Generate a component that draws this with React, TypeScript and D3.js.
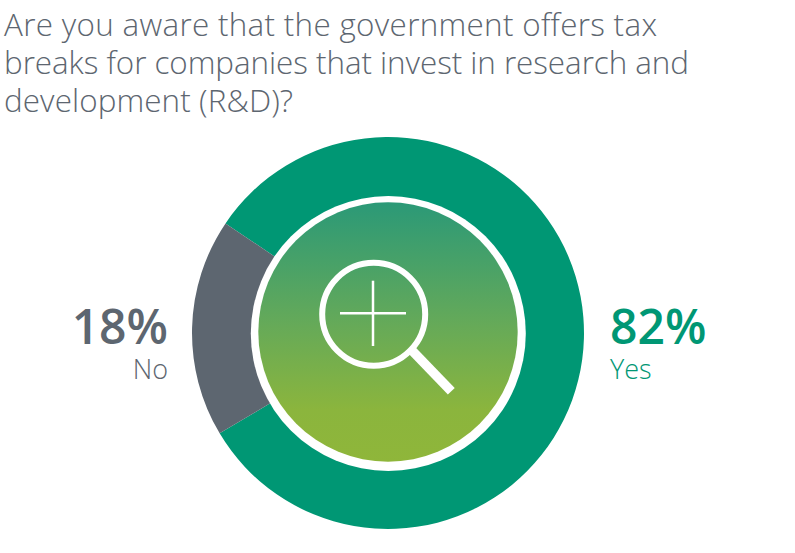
import * as d3 from 'd3';
import { useEffect, useRef } from 'react';

const categories = ['Yes', 'No'];
const values = [82, 18];
const colors = ['#009774', '#5d6670'];
const titleLines = [
    'Are you aware that the government offers tax',
    'breaks for companies that invest in research and',
    'development (R&D)?',
];

export default function App() {
    const ref = useRef<SVGSVGElement | null>(null);

    useEffect(() => {
        const svg = d3.select(ref.current);
        svg.selectAll('*').remove();

        const width = 795;
        const height = 553;
        const cx = 388;
        const cy = 333;
        const font = '"Open Sans", sans-serif';
        // the original face is not installed, so each title line is fitted to its width
        const titleWidths = [653, 685, 289];

        svg.attr('width', width).attr('height', height)
            .style('position', 'absolute').style('left', 0).style('top', 0);

        svg.append('g').selectAll('text')
            .data(titleLines)
            .enter()
            .append('text')
            .attr('x', 4)
            .attr('y', (_, i) => 36 + i * 38)
            .attr('font-family', font)
            .attr('font-size', 31.4)
            .attr('font-weight', 300)
            .attr('fill', '#5d6670')
            .attr('textLength', (_, i) => titleWidths[i])
            .attr('lengthAdjust', 'spacing')
            .text(d => d);

        // ring is turned so the No slice sits on the left, a bit above centre
        const start = (304 / 180) * Math.PI;
        const pie = d3.pie<number>().sort(null).startAngle(start).endAngle(start + Math.PI * 2);
        const arc = d3.arc<d3.PieArcDatum<number>>().innerRadius(130).outerRadius(196);

        svg.append('g')
            .attr('transform', `translate(${cx},${cy})`)
            .selectAll('path')
            .data(pie(values))
            .enter()
            .append('path')
            .attr('d', arc)
            .attr('fill', (_, i) => colors[i]);

        const grad = svg.append('defs').append('linearGradient')
            .attr('id', 'inner').attr('x1', 0).attr('y1', 0).attr('x2', 0).attr('y2', 1);
        grad.append('stop').attr('offset', '0%').attr('stop-color', '#2b9977');
        grad.append('stop').attr('offset', '45%').attr('stop-color', '#63a95a');
        grad.append('stop').attr('offset', '80%').attr('stop-color', '#8bb53d');
        grad.append('stop').attr('offset', '100%').attr('stop-color', '#8fb63a');

        svg.append('circle').attr('cx', 388.3).attr('cy', 333.5).attr('r', 137.5).attr('fill', '#fff');
        svg.append('circle').attr('cx', 388).attr('cy', 332).attr('r', 129.7).attr('fill', 'url(#inner)');

        // magnifier icon
        const icon = svg.append('g').attr('fill', 'none').attr('stroke', '#fff');
        icon.append('circle').attr('cx', 373.7).attr('cy', 314.2).attr('r', 51.5).attr('stroke-width', 6);
        icon.append('line').attr('x1', 340).attr('x2', 406).attr('y1', 313.3).attr('y2', 313.3).attr('stroke-width', 2.5);
        icon.append('line').attr('x1', 373).attr('x2', 373).attr('y1', 280.7).attr('y2', 346).attr('stroke-width', 2.5);
        icon.append('line').attr('x1', 412).attr('y1', 350.5).attr('x2', 451.3).attr('y2', 391.3).attr('stroke-width', 9.5);

        const labels = [
            { i: 1, x: 168, anchor: 'end' },
            { i: 0, x: 610, anchor: 'start' },
        ];
        labels.forEach(l => {
            svg.append('text')
                .attr('x', l.x).attr('y', 344)
                .attr('text-anchor', l.anchor)
                .attr('font-family', font).attr('font-size', 48).attr('font-weight', 600)
                .attr('fill', colors[l.i])
                .text(`${values[l.i]}%`);
            svg.append('text')
                .attr('x', l.x).attr('y', 379)
                .attr('text-anchor', l.anchor)
                .attr('font-family', font).attr('font-size', 27).attr('font-weight', 300)
                .attr('fill', colors[l.i])
                .text(categories[l.i]);
        });
    }, []);

    return <svg ref={ref}></svg>;
}
